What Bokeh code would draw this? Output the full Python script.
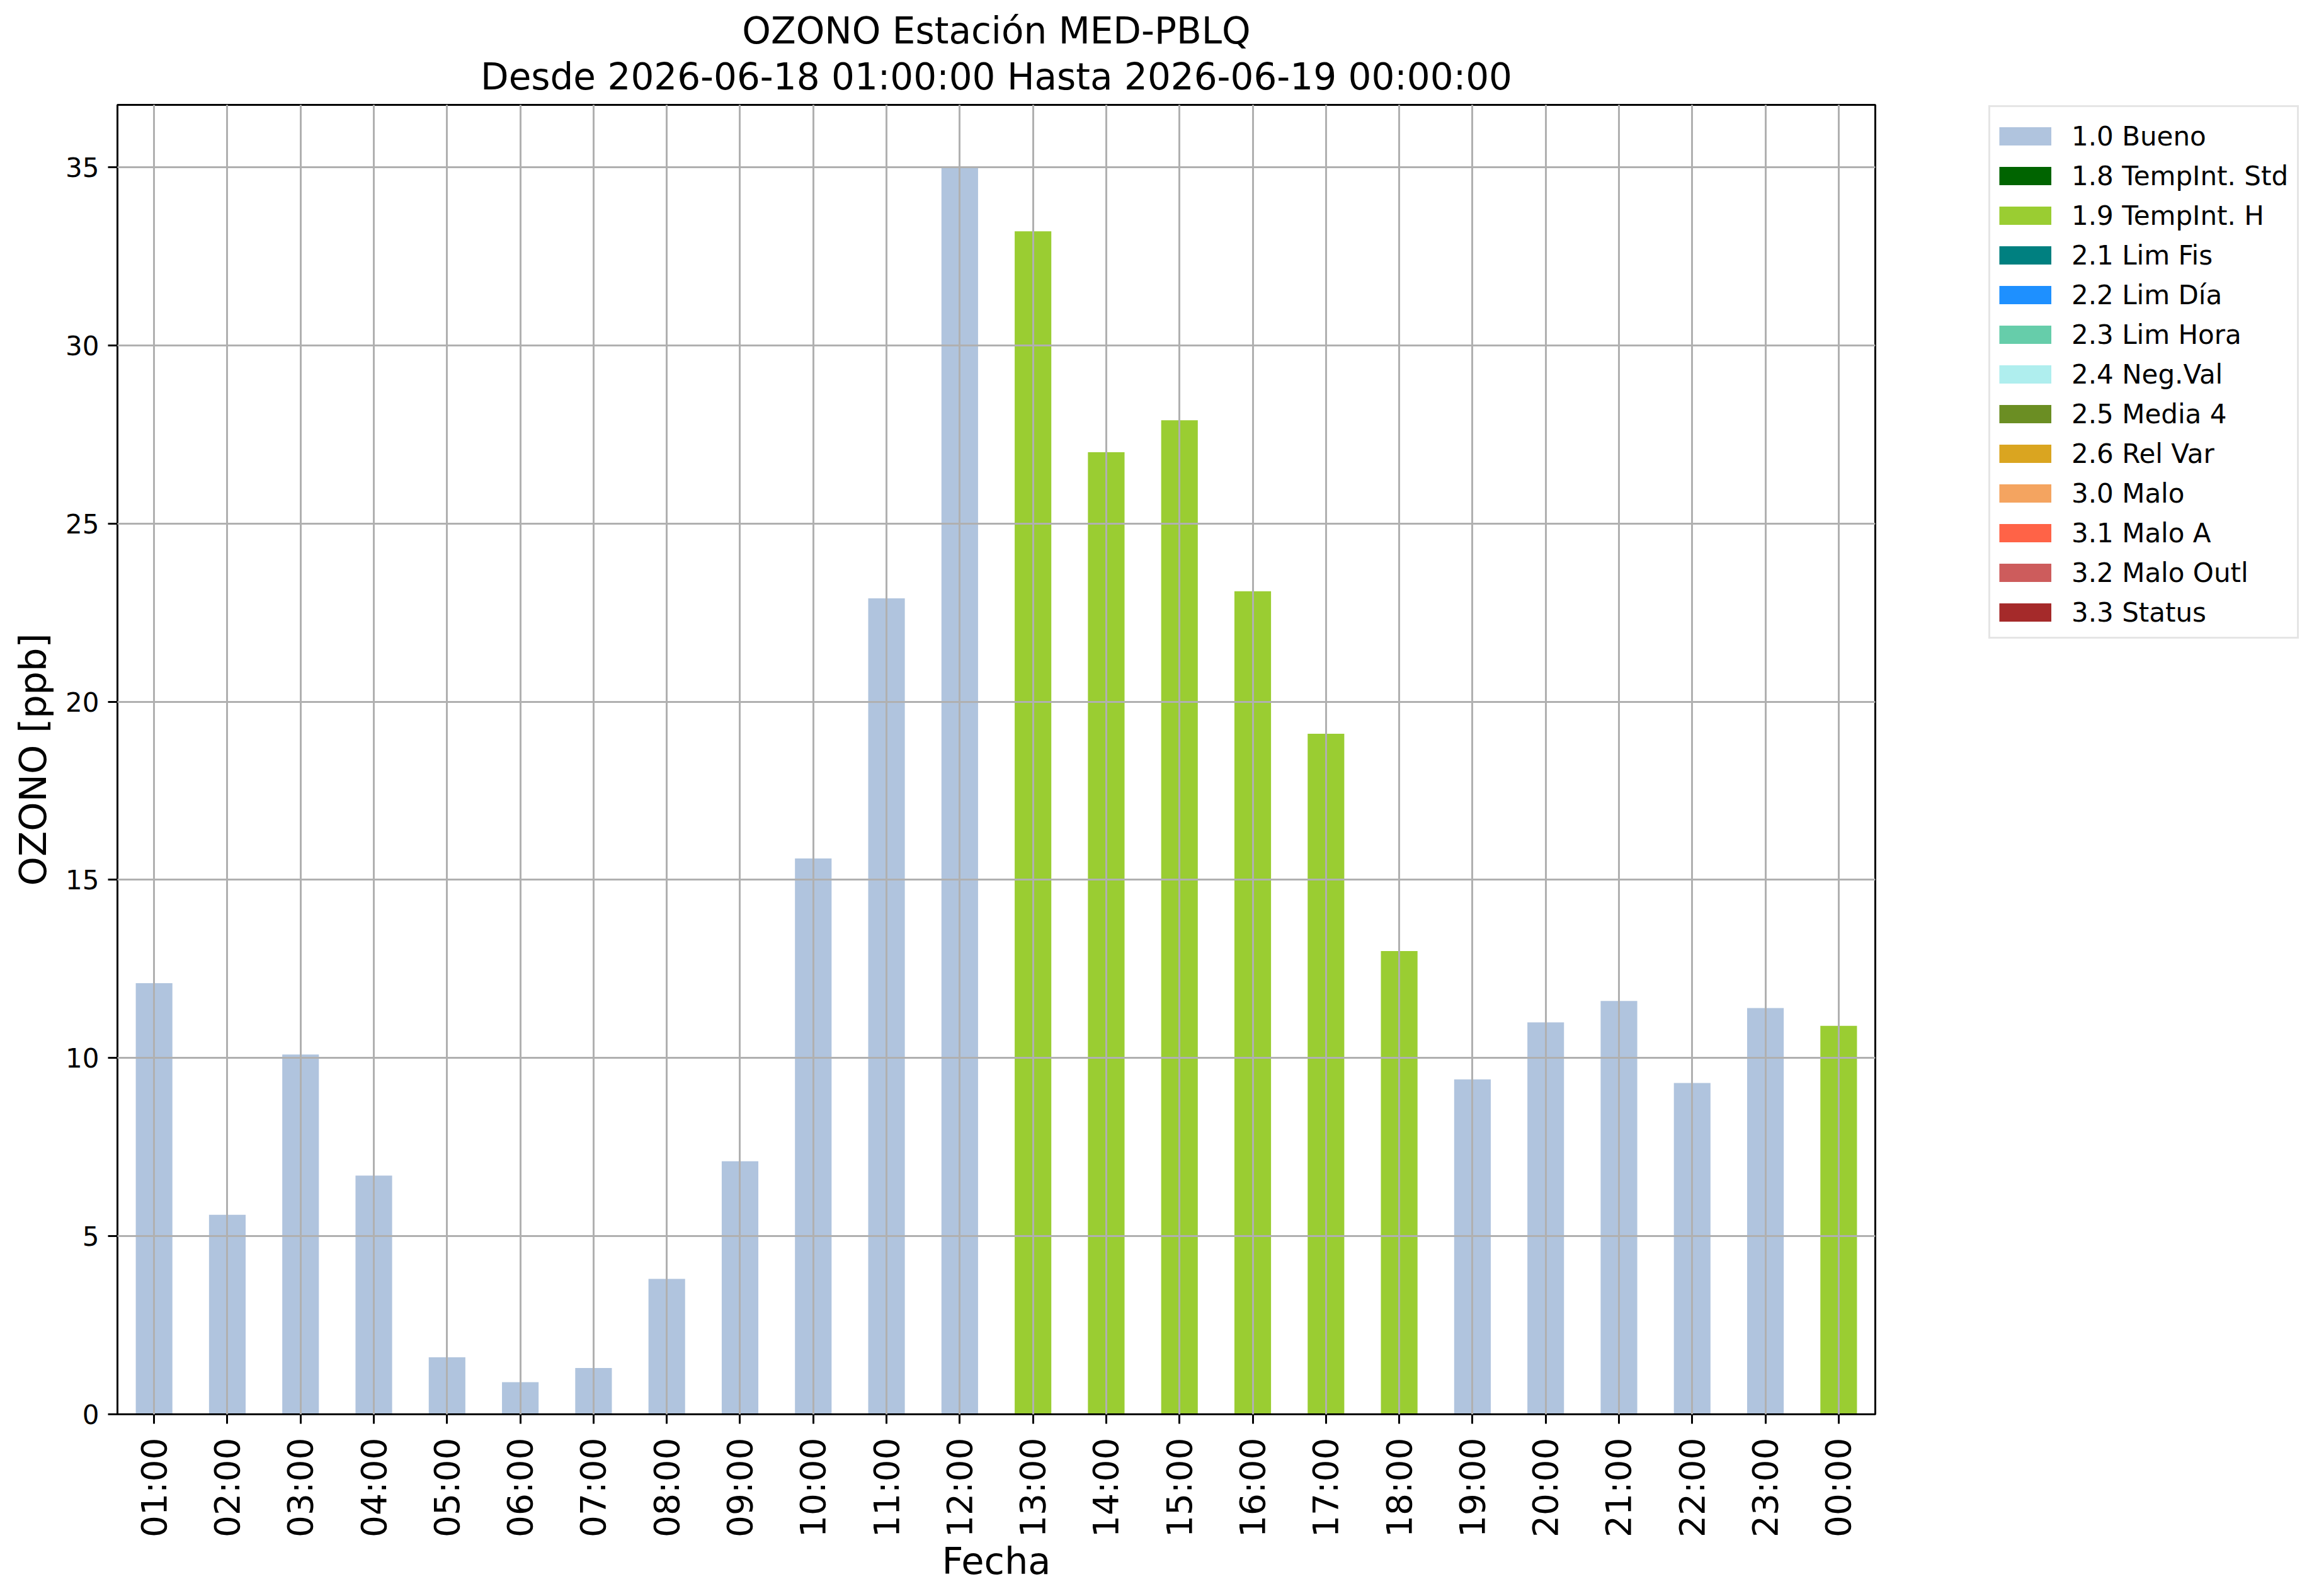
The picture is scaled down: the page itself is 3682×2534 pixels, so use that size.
import math
from bokeh.plotting import figure
from bokeh.models import ColumnDataSource, Range1d, Legend, LegendItem, Title
from bokeh.embed import file_html
from bokeh.resources import INLINE

hours = ["01:00", "02:00", "03:00", "04:00", "05:00", "06:00", "07:00", "08:00",
         "09:00", "10:00", "11:00", "12:00", "13:00", "14:00", "15:00", "16:00",
         "17:00", "18:00", "19:00", "20:00", "21:00", "22:00", "23:00", "00:00"]
ozone = [12.1, 5.6, 10.1, 6.7, 1.6, 0.9, 1.3, 3.8, 7.1, 15.6, 22.9, 35.0,
         33.2, 27.0, 27.9, 23.1, 19.1, 13.0, 9.4, 11.0, 11.6, 9.3, 11.4, 10.9]
flags = ["1.0 Bueno"] * 12 + ["1.9 TempInt. H"] * 6 + ["1.0 Bueno"] * 5 + ["1.9 TempInt. H"]

flag_labels = ["1.0 Bueno", "1.8 TempInt. Std", "1.9 TempInt. H", "2.1 Lim Fis",
               "2.2 Lim Día", "2.3 Lim Hora", "2.4 Neg.Val", "2.5 Media 4",
               "2.6 Rel Var", "3.0 Malo", "3.1 Malo A", "3.2 Malo Outl", "3.3 Status"]
flag_colors = ["#B0C4DE", "#006400", "#9ACD32", "#008080", "#1E90FF", "#66CDAA",
               "#AFEEEE", "#6B8E23", "#DAA520", "#F4A460", "#FF6347", "#CD5C5C", "#A52A2A"]

title_line1 = "OZONO Estación MED-PBLQ"
title_line2 = "Desde 2026-06-18 01:00:00 Hasta 2026-06-19 00:00:00"
y_ticks = [0, 5, 10, 15, 20, 25, 30, 35]

FONT = "DejaVu Sans"
NAN = float("nan")

p = figure(x_range=hours, y_range=Range1d(0, 36.75),
           frame_width=2791, frame_height=2079,
           min_border_left=186, min_border_top=166, min_border_right=689, min_border_bottom=273,
           output_backend="svg", toolbar_location=None, title=None)
p.background_fill_color = "white"
p.border_fill_color = "white"

items = []
for lab, col in zip(flag_labels, flag_colors):
    # one series per quality flag (NaN where the hour has another flag)
    ys = [v if f == lab else NAN for v, f in zip(ozone, flags)]
    src = ColumnDataSource(dict(x=hours, top=ys))
    p.vbar(x="x", top="top", width=0.5, bottom=0, source=src,
           fill_color=col, line_color=None)
    # legend swatch: a thick butt-capped line with no drawable points
    key_src = ColumnDataSource(dict(x=hours, y=[NAN] * len(hours)))
    key = p.line(x="x", y="y", source=key_src, line_color=col, line_width=29,
                 line_cap="butt")
    items.append(LegendItem(label=lab, renderers=[key]))

legend = Legend(items=items, location=(180, 1231))
legend.title = " "
legend.title_text_font_size = "2px"
legend.title_standoff = 5
legend.glyph_width = 83
legend.glyph_height = 50
legend.label_height = 50
legend.label_standoff = 32
legend.padding = 14
legend.spacing = 13
legend.margin = 0
legend.border_line_color = "#cccccc"
legend.border_line_width = 3
legend.background_fill_color = "white"
legend.background_fill_alpha = 1
legend.label_text_font = FONT
legend.label_text_font_size = "42px"
legend.label_text_color = "black"
p.add_layout(legend, "right")

t2 = Title(text=title_line2, align="center", text_font=FONT, text_font_size="58px",
           text_font_style="normal", text_color="black", standoff=21)
t1 = Title(text=title_line1, align="center", text_font=FONT, text_font_size="58px",
           text_font_style="normal", text_color="black", standoff=-15)
p.add_layout(t2, "above")
p.add_layout(t1, "above")

# axes
for ax in (p.xaxis, p.yaxis):
    ax.axis_line_width = 3
    ax.axis_line_color = "black"
    ax.major_tick_line_width = 3
    ax.major_tick_line_color = "black"
    ax.major_tick_out = 15
    ax.major_tick_in = 0
    ax.minor_tick_line_color = None
    ax.major_label_text_font = FONT
    ax.major_label_text_color = "black"
    ax.axis_label_text_font = FONT
    ax.axis_label_text_font_style = "normal"
    ax.axis_label_text_font_size = "59px"
    ax.axis_label_text_color = "black"

p.yaxis.ticker = y_ticks
p.yaxis.major_label_text_font_size = "42px"
p.yaxis.major_label_standoff = 14
p.yaxis.axis_label = "OZONO [ppb]"
p.yaxis.axis_label_standoff = 14

p.xaxis.major_label_orientation = math.pi / 2
p.xaxis.major_label_text_font_size = "55px"
p.xaxis.major_label_standoff = 22
p.xaxis.axis_label = "Fecha"
p.xaxis.axis_label_standoff = 0

p.outline_line_color = "black"
p.outline_line_width = 3
p.outline_line_alpha = 1

p.grid.grid_line_color = "#b0b0b0"
p.grid.grid_line_width = 3
p.grid.level = "overlay"
p.ygrid.ticker = y_ticks

open("out.html", "w").write(file_html(p, INLINE))
